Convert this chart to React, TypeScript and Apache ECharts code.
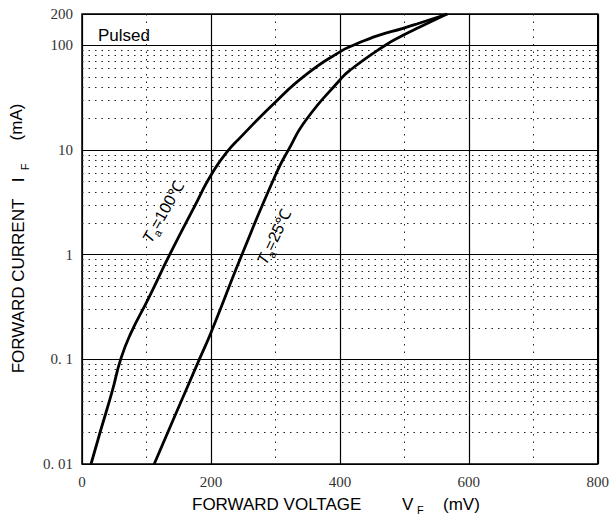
import React, { useEffect, useRef } from "react";
import * as echarts from "echarts";

// Forward voltage (mV) / forward current (mA)
const vf100: number[] = [14, 28, 47, 60, 76, 102, 136, 175, 200, 225, 245, 299, 348, 400, 420, 460, 498, 524, 567];
const if100: number[] = [0.01, 0.02, 0.05, 0.1, 0.179, 0.37, 1, 2.93, 5.75, 9.6, 13.1, 28.4, 53, 87, 100, 125, 146, 164, 200];
const vf25: number[] = [112, 146, 182, 200, 248, 300, 320, 348, 400, 415, 470, 498, 524, 566];
const if25: number[] = [0.01, 0.0307, 0.1, 0.18, 1, 5.75, 10, 19.6, 46.8, 57.6, 100, 125, 150, 200];

const xTicks: number[] = [0, 200, 400, 600, 800];
const yTickValues: number[] = [0.01, 0.1, 1, 10, 100, 200];
const yTickLabels: string[] = ["0. 01", "0. 1", "1", "10", "100", "200"];
const yMinorLines: number[] = [
  0.02, 0.03, 0.04, 0.05, 0.06, 0.07, 0.08, 0.09,
  0.2, 0.3, 0.4, 0.5, 0.6, 0.7, 0.8, 0.9,
  2, 3, 4, 5, 6, 7, 8, 9,
  20, 30, 40, 50, 60, 70, 80, 90,
];

const pairs = (xs: number[], ys: number[]) => xs.map((x, i) => [x, ys[i]]);

const SANS = "Liberation Sans, Arial, sans-serif";
const SERIF = "Liberation Serif, Times New Roman, serif";

export default function App() {
  const ref = useRef<HTMLDivElement>(null);
  useEffect(() => {
    if (!ref.current) return;
    const chart = echarts.init(ref.current, undefined, { renderer: "svg" });
    const labelFor = (v: number) => {
      let best = "";
      let bd = Infinity;
      yTickValues.forEach((t, i) => {
        const d = Math.abs(Math.log10(v) - Math.log10(t));
        if (d < bd) { bd = d; best = yTickLabels[i]; }
      });
      return bd < 0.01 ? best : "";
    };
    const curveLabel = (num: string) => ({
      text: `{t|T}{s|a}{n|=${num}℃}`,
      rich: {
        t: { fontSize: 16, fontFamily: SANS, fontStyle: "italic", lineHeight: 22, verticalAlign: "middle", fill: "#000" },
        s: { fontSize: 11, fontFamily: SANS, verticalAlign: "bottom", lineHeight: 22, fill: "#000" },
        n: { fontSize: 16, fontFamily: SANS, lineHeight: 22, verticalAlign: "middle", fill: "#000" },
      },
      align: "center",
      verticalAlign: "middle",
    });
    const curve = (name: string, xs: number[], ys: number[]) => ({
      name,
      type: "line",
      data: pairs(xs, ys),
      smooth: 0.55,
      showSymbol: false,
      z: 5,
      lineStyle: { color: "#000", width: 2.8 },
    });
    chart.setOption({
      animation: false,
      backgroundColor: "#fff",
      grid: {
        left: 82, right: 14, top: 14, bottom: 55,
        show: true, borderColor: "#000", borderWidth: 1.5, backgroundColor: "transparent",
      },
      xAxis: {
        type: "value",
        min: xTicks[0],
        max: xTicks[xTicks.length - 1],
        interval: 200,
        axisLine: { show: false },
        axisTick: { show: false },
        axisLabel: { fontFamily: SERIF, fontSize: 15, color: "#333", margin: 10 },
        splitLine: { show: true, lineStyle: { color: "#000", width: 1.2 } },
        minorTick: { show: false, splitNumber: 2 },
        minorSplitLine: { show: true, lineStyle: { color: "#222", width: 1, type: [1.5, 6] } },
      },
      yAxis: {
        type: "log",
        logBase: 10,
        min: 0.01,
        max: 200,
        axisLine: { show: false },
        axisTick: { show: false },
        axisLabel: { fontFamily: SERIF, fontSize: 15, color: "#333", margin: 9, formatter: (v: number) => labelFor(v) },
        splitLine: { show: true, lineStyle: { color: "#000", width: 1.2 } },
      },
      series: [
        {
          type: "line",
          data: [],
          silent: true,
          z: 1,
          markLine: {
            silent: true,
            symbol: ["none", "none"],
            label: { show: false },
            lineStyle: { color: "#222", width: 1, type: [1.5, 5] },
            data: yMinorLines.map((v) => ({ yAxis: v })),
          },
        },
        curve("Ta=100", vf100, if100),
        curve("Ta=25", vf25, if25),
      ],
      graphic: [
        {
          type: "text", x: 98, y: 35, z: 10,
          style: { text: "Pulsed", fontFamily: SANS, fontSize: 17, fill: "#000", verticalAlign: "middle", align: "left" },
        },
        { type: "text", x: 163, y: 212, rotation: 1.06, z: 10, style: curveLabel("100") },
        { type: "text", x: 274, y: 237, rotation: 1.13, z: 10, style: curveLabel("25") },
        {
          type: "text", x: 192, y: 504, z: 10,
          style: { text: "FORWARD VOLTAGE", fontFamily: SANS, fontSize: 17, fill: "#000", verticalAlign: "middle", align: "left" },
        },
        {
          type: "text", x: 402, y: 504, z: 10,
          style: { text: "V", fontFamily: SANS, fontSize: 17, fill: "#000", verticalAlign: "middle", align: "left" },
        },
        {
          type: "text", x: 417, y: 510, z: 10,
          style: { text: "F", fontFamily: SANS, fontSize: 11, fill: "#000", verticalAlign: "middle", align: "left" },
        },
        {
          type: "text", x: 443, y: 504, z: 10,
          style: { text: "(mV)", fontFamily: SANS, fontSize: 17, fill: "#000", verticalAlign: "middle", align: "left" },
        },
        {
          type: "text", x: 18, y: 286, rotation: Math.PI / 2, z: 10,
          style: { text: "FORWARD CURRENT", fontFamily: SANS, fontSize: 17, fill: "#000", verticalAlign: "middle", align: "center" },
        },
        {
          type: "text", x: 18, y: 180, rotation: Math.PI / 2, z: 10,
          style: { text: "I", fontFamily: SANS, fontSize: 17, fill: "#000", verticalAlign: "middle", align: "center" },
        },
        {
          type: "text", x: 25, y: 167, rotation: Math.PI / 2, z: 10,
          style: { text: "F", fontFamily: SANS, fontSize: 11, fill: "#000", verticalAlign: "middle", align: "center" },
        },
        {
          type: "text", x: 16, y: 122, rotation: Math.PI / 2, z: 10,
          style: { text: "(mA)", fontFamily: SANS, fontSize: 17, fill: "#000", verticalAlign: "middle", align: "center" },
        },
      ],
    });
    return () => chart.dispose();
  }, []);
  return <div ref={ref} style={{ width: 612, height: 519, position: "absolute", left: 0, top: 0 }} />;
}
